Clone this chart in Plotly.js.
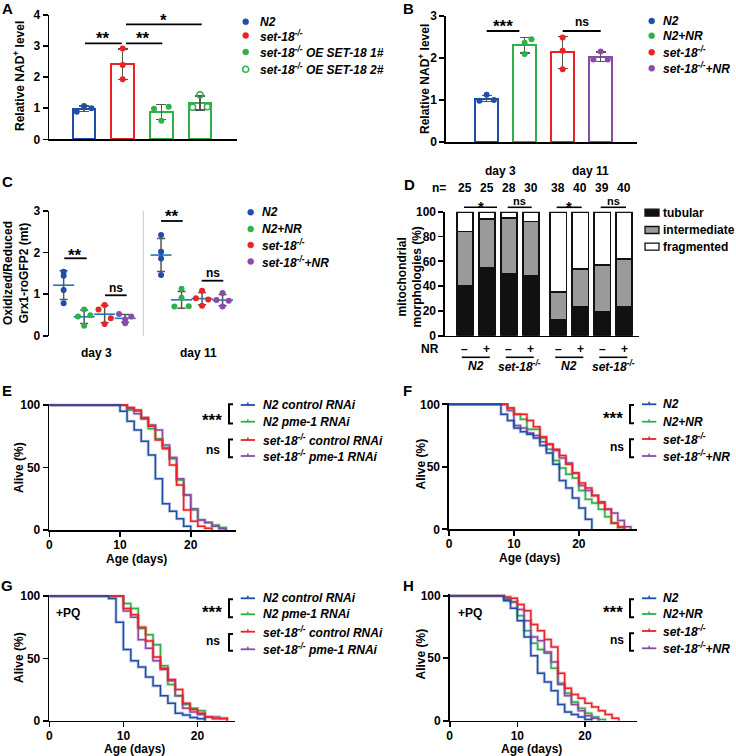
<!DOCTYPE html>
<html><head><meta charset="utf-8">
<script src="https://cdn.plot.ly/plotly-3.0.1.min.js"></script>
<style>html,body{margin:0;padding:0;background:#fff}</style>
</head><body><div id="chart" style="width:736px;height:756px"></div>
<script>
// ================= DATA =================
// Panel A: relative NAD+ (3 replicates each)
const A_N2     = [0.89, 1.07, 1.00];
const A_set18  = [2.92, 2.39, 1.93];
const A_OE1    = [0.98, 0.60, 1.05];
const A_OE2    = [1.03, 1.43, 1.05];
const A_labels = ['N2', 'set-18<sup>-/-</sup>', 'set-18<sup>-/-</sup> OE SET-18 1#', 'set-18<sup>-/-</sup> OE SET-18 2#'];
// Panel B
const B_N2       = [0.98, 1.12, 1.00];
const B_N2NR     = [2.36, 2.44, 2.09];
const B_set18    = [2.48, 2.17, 1.73];
const B_set18NR  = [1.96, 2.15, 1.96];
const BCH_labels = ['N2', 'N2+NR', 'set-18<sup>-/-</sup>', 'set-18<sup>-/-</sup>+NR'];
// Panel C: Oxidized/Reduced Grx1-roGFP2 (mt)
const C_N2_d3      = [1.54, 1.44, 1.10, 0.78];
const C_N2NR_d3    = [0.63, 0.49, 0.46, 0.24];
const C_set18_d3   = [0.74, 0.63, 0.42, 0.28];
const C_set18NR_d3 = [0.52, 0.46, 0.39, 0.30];
const C_N2_d11      = [2.42, 2.02, 1.86, 1.46];
const C_N2NR_d11    = [1.13, 0.91, 0.70, 0.71];
const C_set18_d11   = [1.08, 0.90, 0.87, 0.72];
const C_set18NR_d11 = [1.03, 0.86, 0.84, 0.70];
const C_days = ['day 3', 'day 11'];
// Panel D: mitochondrial morphologies (%)
const D_tubular      = [40, 55, 50, 48, 13, 23, 19, 23];
const D_intermediate = [44, 39, 45, 44, 22, 31, 38, 39];
const D_fragmented   = [16, 6, 5, 8, 65, 46, 43, 38];
const D_n            = [25, 25, 28, 30, 38, 40, 39, 40];
const D_NR           = ['–', '+', '–', '+', '–', '+', '–', '+'];
const D_groups       = ['N2', 'set-18<sup>-/-</sup>', 'N2', 'set-18<sup>-/-</sup>'];
const D_sig          = ['*', 'ns', '*', 'ns'];
const D_legend       = ['tubular', 'intermediate', 'fragmented'];
// Panel E: lifespan, RNAi
const E_days        = [0, 10, 11, 12, 13, 14, 15, 16, 17, 18, 19, 20, 21, 22, 23, 24, 25];
const E_N2_ctrl     = [100, 95, 87, 80, 71, 60, 41, 21, 15, 9, 3, 0, null, null, null, null, null];
const E_N2_pme1     = [100, 100, 96, 95, 89, 81, 73, 66, 57, 40, 28, 16, 8, 6, 4, 2, 0];
const E_set18_ctrl  = [100, 100, 98, 96, 90, 83, 72, 65, 52, 36, 16, 7, 3, 1.5, 0, null, null];
const E_set18_pme1  = [100, 100, 97, 93, 89, 84, 80, 68, 58, 41, 28, 17, 8, 6, 3, 1, 0];
const EG_labels = ['N2 control RNAi', 'N2 pme-1 RNAi', 'set-18<sup>-/-</sup> control RNAi', 'set-18<sup>-/-</sup> pme-1 RNAi'];
// Panel F: lifespan, NR
const F_days      = [0, 8, 9, 10, 11, 12, 13, 14, 15, 16, 17, 18, 19, 20, 21, 22, 23, 24, 25, 26, 27, 28];
const F_N2        = [100, 92, 87, 81, 78, 76, 73, 67, 61, 52, 39, 33, 25, 17, 8, 0, null, null, null, null, null, null];
const F_N2NR      = [100, 100, 97, 92, 88, 80, 80, 73, 64, 55, 49, 44, 41, 31, 24, 21, 16, 10, 5, 1.5, 0, null];
const F_set18     = [100, 100, 97, 92, 92, 87, 82, 74, 68, 64, 59, 52, 45, 37, 33, 27, 21, 16, 5, 2, 0, null];
const F_set18NR   = [100, 100, 95, 83, 81, 77, 75, 70, 68, 63, 57, 53, 45, 35, 31, 27, 22, 16, 13, 7, 2, 0];
// Panel G: lifespan +PQ, RNAi
const G_days        = [0, 8, 9, 10, 11, 12, 13, 14, 15, 16, 17, 18, 19, 20, 21, 22, 23, 24];
const G_N2_ctrl     = [100, 98, 79, 57, 48, 43, 35, 28, 20, 14, 6, 4.5, 2.5, 1.5, 0, null, null, null];
const G_N2_pme1     = [100, 100, 100, 94, 90, 74, 69, 61, 44, 29, 20, 13, 10, 8, 0, null, null, null];
const G_set18_ctrl  = [100, 100, 100, 90, 85, 75, 64, 51, 42, 33, 25, 14, 9, 6, 3, 1.5, 1.5, 0];
const G_set18_pme1  = [100, 100, 100, 88, 83, 65, 58, 48, 41, 32, 20, 10, 7, 5, 3, 3, 2, 0];
// Panel H: lifespan +PQ, NR
const H_days      = [0, 8, 9, 10, 11, 12, 13, 14, 15, 16, 17, 18, 19, 20, 21, 22, 23, 24, 25];
const H_N2        = [100, 96, 90, 80, 67, 52, 38, 31, 24, 13, 7, 5, 3, 1, 0, null, null, null, null];
const H_N2NR      = [100, 98, 95, 84, 72, 62, 57, 54, 42, 30, 22, 15, 10, 6, 3, 1, 0, null, null];
const H_set18     = [100, 99, 98, 93, 88, 77, 72, 65, 59, 38, 26, 21, 18, 14, 11, 8, 5, 2, 0];
const H_set18NR   = [100, 97, 95, 89, 80, 67, 64, 55, 47, 29, 20, 13, 8, 4, 2, 0, null, null, null];

// ================= STYLE / LAYOUT =================
const W = 736, H = 756;
const FONT = 'Liberation Sans, Arial, sans-serif';
const BLUE = '#1f4ea6', GREEN = '#2fb04a', RED = '#ec2227', PURPLE = '#8b4aa6', GREY = '#555555';
const X = v => v / W, Y = v => 1 - v / H;
const dom = (x0, x1, y0, y1) => ({x: [X(x0), X(x1)], y: [Y(y1), Y(y0)]});
const mean = a => a.reduce((s, v) => s + v, 0) / a.length;
const sd = a => { const m = mean(a); return Math.sqrt(a.reduce((s, v) => s + (v - m) * (v - m), 0) / (a.length - 1)); };

const layout = {
  width: W, height: H, margin: {l: 0, r: 0, t: 0, b: 0},
  paper_bgcolor: '#fff', plot_bgcolor: 'rgba(0,0,0,0)', showlegend: false,
  barmode: 'stack', hovermode: false, font: {family: FONT, color: '#000', size: 12},
  annotations: [], shapes: []
};
const traces = [];
const axBase = () => ({
  showgrid: false, zeroline: false, showline: true, linecolor: '#000', linewidth: 1.6,
  ticks: 'outside', ticklen: 5, tickwidth: 1.6, tickcolor: '#000',
  tickfont: {family: FONT, size: 12, color: '#000', weight: 700}, fixedrange: true
});
function setAxes(n, d, xr, yr, xo, yo) {
  const xs = n === 1 ? '' : n, xk = 'xaxis' + xs, yk = 'yaxis' + xs;
  layout[xk] = Object.assign(axBase(), {domain: d.x, range: xr, anchor: 'y' + xs}, xo || {});
  layout[yk] = Object.assign(axBase(), {domain: d.y, range: yr, anchor: 'x' + xs}, yo || {});
}
function ann(x, y, text, o) {
  o = o || {};
  layout.annotations.push({xref: 'paper', yref: 'paper', x: X(x), y: Y(y), text: text, showarrow: false,
    xanchor: o.xa || 'center', yanchor: o.ya || 'middle', textangle: o.rot || 0, borderpad: 0,
    font: {family: FONT, size: o.s || 12, color: '#000', weight: 700}});
}
function seg(x0, y0, x1, y1, c, w) {
  layout.shapes.push({type: 'line', xref: 'paper', yref: 'paper', x0: X(x0), y0: Y(y0), x1: X(x1), y1: Y(y1),
    line: {color: c || '#000', width: w || 1.8}});
}
function dot(cx, cy, c, open) {
  layout.shapes.push({type: 'circle', xref: 'paper', yref: 'paper', x0: X(cx - 3), x1: X(cx + 3), y0: Y(cy + 3), y1: Y(cy - 3),
    fillcolor: open ? '#fff' : c, line: {color: c, width: open ? 1.5 : 0.5}});
}
function box(x0, x1, cy, h, fill) {
  layout.shapes.push({type: 'rect', xref: 'paper', yref: 'paper', x0: X(x0), x1: X(x1), y0: Y(cy + h / 2), y1: Y(cy - h / 2),
    fillcolor: fill, line: {color: '#111', width: 1.3}});
}
function bracket(x, y0, y1) {
  layout.shapes.push({type: 'path', xref: 'paper', yref: 'paper',
    path: `M${X(x + 4)},${Y(y0)} L${X(x)},${Y(y0)} L${X(x)},${Y(y1)} L${X(x + 4)},${Y(y1)}`,
    line: {color: '#000', width: 2}});
}

// ---------- Panel letters ----------
[['A', 7, 8], ['B', 408, 8], ['C', 7, 182], ['D', 409, 184], ['E', 7, 390], ['F', 407, 390], ['G', 7, 585], ['H', 408, 585]]
  .forEach(l => ann(l[1], l[2], l[0], {s: 15}));

// ---------- Bar + points panels (A, B) ----------
function barPanel(n, groups, colors, jit, openIdx) {
  const xs = n === 1 ? '' : n;
  traces.push({type: 'bar', x: groups.map((g, i) => i), y: groups.map(mean), width: 0.59,
    xaxis: 'x' + xs, yaxis: 'y' + xs,
    marker: {color: '#fff', line: {color: colors, width: 2}},
    error_y: {type: 'data', array: groups.map(sd), visible: true, color: GREY, thickness: 1.5, width: 5}});
  groups.forEach((g, i) => {
    traces.push({type: 'scatter', mode: 'markers', x: g.map((v, k) => i + jit[i][k]), y: g,
      xaxis: 'x' + xs, yaxis: 'y' + xs, cliponaxis: false,
      marker: i === openIdx ? {symbol: 'circle-open', size: 6, color: colors[i], line: {width: 1.5}}
                            : {symbol: 'circle', size: 6, color: colors[i], line: {width: 0}}});
  });
}
// A
setAxes(1, dom(49.3, 236.7, 15, 139.3), [-0.9, 3.95], [0, 4],
  {ticks: '', showticklabels: false}, {tickvals: [0, 1, 2, 3, 4]});
barPanel(1, [A_N2, A_set18, A_OE1, A_OE2], [BLUE, RED, GREEN, GREEN],
  [[-0.19, 0, 0.19], [0, 0, 0], [-0.19, 0, 0.19], [-0.19, 0, 0.19]], 3);
ann(19, 76, 'Relative NAD<sup>+</sup> level', {rot: -90});
ann(103.3, 38.5, '**', {s: 17}); seg(85, 43.3, 121.7, 43.3);
ann(143.3, 38.5, '**', {s: 17}); seg(126, 43.3, 162.3, 43.3);
ann(163.3, 20, '*', {s: 17}); seg(126, 24.3, 201.7, 24.3);
[[BLUE, 21.7], [RED, 35.5], [GREEN, 52], [GREEN, 69.3]].forEach((r, i) => {
  dot(245.7, r[1], r[0], i === 3);
  ann(259, r[1], '<i>' + A_labels[i] + '</i>', {xa: 'left'});
});
// B
setAxes(2, dom(446, 636.7, 15.7, 142), [-1.07, 3.95], [0, 3],
  {ticks: '', showticklabels: false}, {tickvals: [0, 1, 2, 3]});
barPanel(2, [B_N2, B_N2NR, B_set18, B_set18NR], [BLUE, GREEN, RED, PURPLE],
  [[-0.19, 0, 0.19], [0, 0.18, 0], [0, 0, 0], [-0.19, 0, 0.19]], -1);
ann(424.5, 79.5, 'Relative NAD<sup>+</sup> level', {rot: -90});
ann(503.3, 26.5, '***', {s: 17}); seg(486.7, 31, 519.3, 31);
ann(581.7, 21.7, 'ns', {s: 12}); seg(562.7, 31, 600.7, 31);
[[BLUE, 21], [GREEN, 35.7], [RED, 52.3], [PURPLE, 68.3]].forEach((r, i) => {
  dot(651.7, r[1], r[0], false);
  ann(662, r[1], '<i>' + BCH_labels[i] + '</i>', {xa: 'left'});
});

// ---------- Panel C ----------
setAxes(3, dom(49.3, 240, 211, 335.7), [-0.7, 8.6], [0, 3],
  {showline: false, ticks: '', showticklabels: false}, {tickvals: [0, 1, 2, 3]});
const C_groups = [C_N2_d3, C_N2NR_d3, C_set18_d3, C_set18NR_d3, C_N2_d11, C_N2NR_d11, C_set18_d11, C_set18NR_d11];
const C_pos = [0, 1, 2, 3, 4.75, 5.75, 6.75, 7.75];
const C_cols = [BLUE, GREEN, RED, PURPLE, BLUE, GREEN, RED, PURPLE];
const C_jit = [[0, 0, 0, 0], [0, 0.3, -0.3, 0], [0, -0.3, 0.3, 0], [-0.3, 0.3, 0, 0],
               [0, 0, 0, 0], [0, 0, -0.35, 0.35], [0, -0.3, 0.3, 0], [0, -0.3, 0.3, 0]];
traces.push({type: 'scatter', mode: 'markers', x: C_pos, y: C_groups.map(mean), xaxis: 'x3', yaxis: 'y3',
  cliponaxis: false,
  marker: {symbol: 'line-ew-open', size: 15, line: {color: GREY, width: 1.6}},
  error_y: {type: 'data', array: C_groups.map(sd), visible: true, color: GREY, thickness: 1.5, width: 4}});
C_groups.forEach((g, i) => traces.push({type: 'scatter', mode: 'markers', x: g.map((v, k) => C_pos[i] + C_jit[i][k]), y: g,
  xaxis: 'x3', yaxis: 'y3', cliponaxis: false, marker: {size: 6, color: C_cols[i], line: {width: 0}}}));
seg(143.3, 211, 143.3, 335.7, '#c8c8c8', 1);
ann(16, 273, 'Oxidized/Reduced<br>Grx1-roGFP2 (mt)', {rot: -90});
ann(96.7, 353.3, C_days[0]); ann(198.3, 353.3, C_days[1]);
ann(75, 255, '**', {s: 17}); seg(64.3, 258.3, 86.7, 258.3);
ann(116, 287.7, 'ns'); seg(105, 295.3, 126.7, 295.3);
ann(171.7, 217, '**', {s: 17}); seg(161, 221, 182.7, 221);
ann(212.7, 272.7, 'ns'); seg(201.7, 280.7, 223.3, 280.7);
[[BLUE, 212.3], [GREEN, 229], [RED, 245], [PURPLE, 261.5]].forEach((r, i) => {
  dot(250.7, r[1], r[0], false);
  ann(261, r[1], '<i>' + BCH_labels[i] + '</i>', {xa: 'left'});
});

// ---------- Panel D ----------
const D_pos = [0, 1, 2, 3, 4.25, 5.25, 6.25, 7.25];
const Dx = p => 445 + (p + 0.9) * 22;
setAxes(4, dom(445, 639, 211.7, 335.7), [-0.9, 7.92], [0, 100],
  {ticks: '', showticklabels: false}, {tickvals: [0, 20, 40, 60, 80, 100]});
[[D_tubular, '#111111'], [D_intermediate, '#9a9a9a'], [D_fragmented, '#ffffff']].forEach(s => {
  traces.push({type: 'bar', x: D_pos, y: s[0], width: 0.73, xaxis: 'x4', yaxis: 'y4',
    marker: {color: s[1], line: {color: '#111', width: 1.6}}});
});
ann(409.5, 277, 'mitochondrial<br>morphologies (%)', {rot: -90});
ann(500, 170.7, 'day 3'); ann(590, 170.7, 'day 11');
ann(439, 187.7, 'n=');
D_n.forEach((v, i) => ann(Dx(D_pos[i]), 187.7, String(v)));
const D_sigLines = [[464, 497], [507.7, 531.7], [556.7, 581.7], [600.7, 626]];
D_sig.forEach((s, i) => {
  const l = D_sigLines[i];
  seg(l[0], 207.3, l[1], 207.3, '#000', 1.6);
  if (s === '*') ann((l[0] + l[1]) / 2, 206.5, s, {s: 15}); else ann((l[0] + l[1]) / 2, 201.5, s, {s: 11});
});
[['#111111', 212.7], ['#9a9a9a', 230], ['#ffffff', 246.7]].forEach((r, i) => {
  box(645, 659, r[1], 7, r[0]);
  ann(662, r[1], D_legend[i], {xa: 'left'});
});
ann(430, 349, 'NR');
D_NR.forEach((s, i) => ann(Dx(D_pos[i]), 349, s));
D_groups.forEach((g, j) => {
  const a = Dx(D_pos[2 * j]), b = Dx(D_pos[2 * j + 1]);
  seg(a - 3, 357.3, b + 3, 357.3, '#000', 1.6);
  ann((a + b) / 2, 366, '<i>' + g + '</i>');
});

// ---------- Survival panels ----------
function survPanel(n, d, xr, days, curves, cols, labels, L) {
  const xs = String(n);
  setAxes(n, d, xr, [0, 101], {tickvals: [0, 10, 20], ticklabelstandoff: -2}, {tickvals: [0, 50, 100]});
  [1, 3, 2, 0].forEach(i => {
    traces.push({type: 'scatter', mode: 'lines', x: days, y: curves[i], xaxis: 'x' + xs, yaxis: 'y' + xs,
      connectgaps: false, line: {shape: 'hv', color: cols[i], width: 3.2}, opacity: 0.28});
    traces.push({type: 'scatter', mode: 'lines', x: days, y: curves[i], xaxis: 'x' + xs, yaxis: 'y' + xs,
      connectgaps: false, line: {shape: 'hv', color: cols[i], width: 1.5}});
  });
  ann(L.yt[0], L.yt[1], 'Alive (%)', {rot: -90});
  ann(L.xt[0], L.xt[1], 'Age (days)');
  L.rows.forEach((y, i) => {
    seg(L.lx[0], y, L.lx[1], y, cols[i], 1.8);
    seg((L.lx[0] + L.lx[1]) / 2, y - 2.5, (L.lx[0] + L.lx[1]) / 2, y + 0.5, cols[i], 1.5);
    ann(L.tx, y, '<i>' + labels[i] + '</i>', {xa: 'left'});
  });
  ann(L.star[0], L.star[1], '***', {s: 17});
  ann(L.ns[0], L.ns[1], 'ns');
  bracket(L.bx, L.b1[0], L.b1[1]);
  bracket(L.bx, L.b2[0], L.b2[1]);
  if (L.pq) ann(L.pq[0], L.pq[1], '+PQ');
}
const pad = (t, b) => [t - (b - t) * 0.01, b];
const colsRNAi = [BLUE, GREEN, RED, PURPLE];
let yy = pad(405, 530);
survPanel(5, dom(49.3, 236, yy[0], yy[1]), [0, 26.4], E_days, [E_N2_ctrl, E_N2_pme1, E_set18_ctrl, E_set18_pme1], colsRNAi, EG_labels,
  {yt: [19, 468], xt: [136, 558.5], rows: [405, 421.7, 440, 456], lx: [240.7, 255], tx: 261.5,
   star: [211.7, 420], ns: [212.8, 450], bx: 229, b1: [404.3, 423.5], b2: [439.5, 457.3]});
yy = pad(404.3, 529.3);
survPanel(6, dom(449, 637.3, yy[0], yy[1]), [0, 29], F_days, [F_N2, F_N2NR, F_set18, F_set18NR], colsRNAi, BCH_labels,
  {yt: [420.5, 464], xt: [529.7, 557.5], rows: [404.3, 421.7, 439, 456], lx: [642, 656.3], tx: 661.5,
   star: [613, 418], ns: [617.3, 447.3], bx: 630, b1: [405, 423.3], b2: [439.3, 457.3]});
yy = pad(596, 720.7);
survPanel(7, dom(49.3, 235.3, yy[0], yy[1]), [0, 25.1], G_days, [G_N2_ctrl, G_N2_pme1, G_set18_ctrl, G_set18_pme1], colsRNAi, EG_labels,
  {yt: [19, 658], xt: [134, 748.8], rows: [598.3, 614.3, 631.7, 649.3], lx: [240.7, 255], tx: 261.5,
   star: [211.7, 612], ns: [212.8, 641], bx: 229, b1: [599.3, 617.3], b2: [634, 650.7], pq: [68.3, 612.7]});
yy = pad(595.7, 720.7);
survPanel(8, dom(449.7, 637, yy[0], yy[1]), [0, 27.7], H_days, [H_N2, H_N2NR, H_set18, H_set18NR], colsRNAi, BCH_labels,
  {yt: [420.5, 654], xt: [531.3, 748.8], rows: [598.3, 614, 631, 648.3], lx: [642, 656.3], tx: 661.5,
   star: [613, 612], ns: [617.3, 640], bx: 630, b1: [599.3, 617.3], b2: [633.3, 650.7], pq: [469.7, 612.7]});

traces.forEach(t => { t.hoverinfo = 'skip'; t.showlegend = false; });
Plotly.newPlot('chart', traces, layout, {staticPlot: true, displayModeBar: false});
</script>
</body></html>
